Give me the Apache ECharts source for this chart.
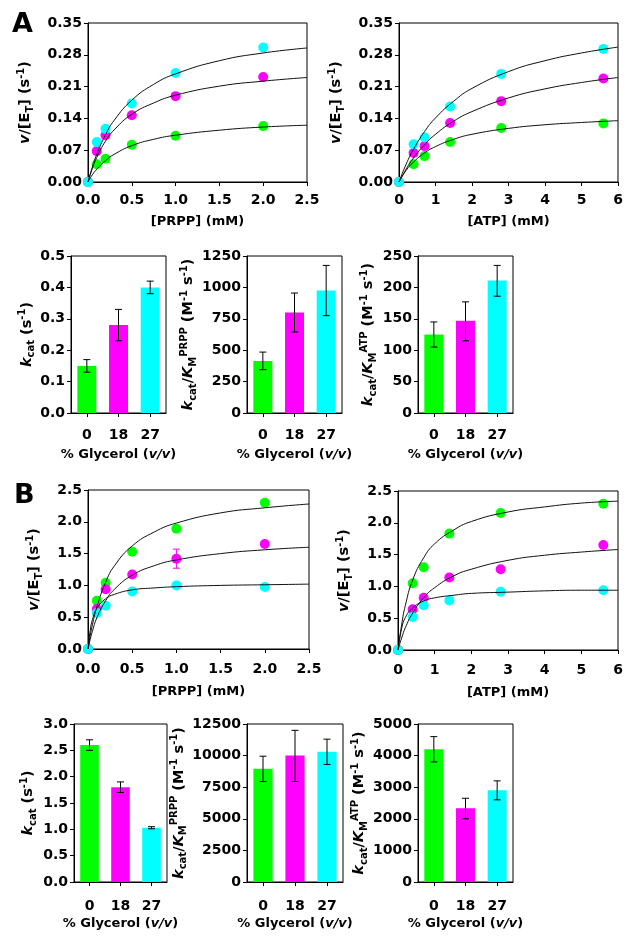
<!DOCTYPE html>
<html>
<head>
<meta charset="utf-8">
<script src="https://cdn.jsdelivr.net/npm/echarts@6/dist/echarts.min.js"></script>
<style>html,body{margin:0;padding:0;background:#fff}#c{width:635px;height:938px}</style>
</head>
<body>
<div id="c"></div>
<script>
// ---------- DATA ----------
const prppConc = [0, 0.1, 0.2, 0.5, 1.0, 2.0];
const atpConc = [0, 0.4, 0.7, 1.4, 2.8, 5.6];

const A_prpp_green   = [0, 0.039, 0.051, 0.082, 0.102, 0.123];
const A_prpp_magenta = [0, 0.068, 0.103, 0.147, 0.189, 0.231];
const A_prpp_cyan    = [0, 0.088, 0.117, 0.173, 0.240, 0.296];
const A_atp_green    = [0, 0.039, 0.057, 0.088, 0.119, 0.129];
const A_atp_magenta  = [0, 0.064, 0.079, 0.130, 0.178, 0.228];
const A_atp_cyan     = [0, 0.083, 0.098, 0.166, 0.238, 0.293];
const B_prpp_green   = [0, 0.76, 1.04, 1.53, 1.89, 2.30];
const B_prpp_magenta = [0, 0.63, 0.94, 1.17, 1.42, 1.65];
const B_prpp_cyan    = [0, 0.565, 0.68, 0.905, 1.00, 0.975];
const B_atp_green    = [0, 1.05, 1.30, 1.83, 2.155, 2.30];
const B_atp_magenta  = [0, 0.64, 0.82, 1.14, 1.27, 1.65];
const B_atp_cyan     = [0, 0.52, 0.705, 0.78, 0.915, 0.94];
// error bar on B PRPP magenta point at 1.0 mM
const B_prpp_magenta_err = [[1.0, 1.27, 1.57]];

// fitted curves
const A_prppFitX = [0, 0.05, 0.1, 0.2, 0.3, 0.5, 0.75, 1, 1.5, 2, 2.5];
const A_prppFit_cyan    = [0, 0.033, 0.061, 0.104, 0.136, 0.180, 0.215, 0.238, 0.267, 0.284, 0.295];
const A_prppFit_magenta = [0, 0.030, 0.054, 0.090, 0.115, 0.149, 0.174, 0.191, 0.211, 0.222, 0.230];
const A_prppFit_green   = [0, 0.016, 0.028, 0.047, 0.061, 0.080, 0.094, 0.103, 0.114, 0.121, 0.125];
const A_atpFitX = [0, 0.2, 0.4, 0.7, 1, 1.5, 2, 3, 4, 5, 6];
const A_atpFit_cyan    = [0, 0.040, 0.072, 0.111, 0.141, 0.178, 0.206, 0.243, 0.267, 0.284, 0.297];
const A_atpFit_magenta = [0, 0.029, 0.053, 0.082, 0.105, 0.134, 0.155, 0.185, 0.205, 0.219, 0.230];
const A_atpFit_green   = [0, 0.026, 0.044, 0.064, 0.078, 0.094, 0.105, 0.118, 0.126, 0.131, 0.135];
const B_prppFitX = [0, 0.025, 0.05, 0.1, 0.2, 0.3, 0.5, 0.75, 1, 1.5, 2, 2.5];
const B_prppFit_green   = [0, 0.21, 0.38, 0.66, 1.05, 1.31, 1.62, 1.84, 1.98, 2.14, 2.22, 2.28];
const B_prppFit_magenta = [0, 0.15, 0.28, 0.49, 0.76, 0.94, 1.16, 1.31, 1.40, 1.50, 1.56, 1.60];
const B_prppFit_cyan    = [0, 0.29, 0.46, 0.64, 0.79, 0.86, 0.93, 0.96, 0.98, 1.00, 1.01, 1.02];
const B_atpFitX = [0, 0.1, 0.2, 0.4, 0.7, 1, 1.5, 2, 3, 4, 5, 6];
const B_atpFit_green   = [0, 0.40, 0.70, 1.10, 1.45, 1.67, 1.88, 2.02, 2.17, 2.25, 2.31, 2.34];
const B_atpFit_magenta = [0, 0.19, 0.35, 0.58, 0.82, 0.98, 1.16, 1.27, 1.41, 1.49, 1.54, 1.58];
const B_atpFit_cyan    = [0, 0.34, 0.51, 0.66, 0.77, 0.82, 0.86, 0.89, 0.91, 0.93, 0.94, 0.94];

// bar panels
const glycerol = ['0', '18', '27'];
const A_kcat = [0.15, 0.28, 0.40],  A_kcat_lo = [0.13, 0.23, 0.38],  A_kcat_hi = [0.17, 0.33, 0.42];
const A_prppEff = [415, 800, 975],  A_prppEff_lo = [345, 645, 775],  A_prppEff_hi = [485, 955, 1175];
const A_atpEff = [125, 147, 211],   A_atpEff_lo = [105, 115, 186],   A_atpEff_hi = [145, 177, 235];
const B_kcat = [2.6, 1.8, 1.03],    B_kcat_lo = [2.5, 1.7, 1.01],    B_kcat_hi = [2.7, 1.9, 1.05];
const B_prppEff = [8950, 10000, 10300], B_prppEff_lo = [7950, 7950, 9300], B_prppEff_hi = [9950, 12000, 11300];
const B_atpEff = [4200, 2330, 2900], B_atpEff_lo = [3800, 2000, 2600], B_atpEff_hi = [4600, 2650, 3200];

// ---------- STYLE / LAYOUT ----------
const F = 'DejaVu Sans';
const COL = { g: '#00ff00', m: '#ff00ff', c: '#00ffff' };
const BLACK = '#000';

const rich = {
  n:   { fontFamily: F, fontWeight: 'bold', fontSize: 14.5, lineHeight: 19, color: BLACK },
  i:   { fontFamily: F, fontWeight: 'bold', fontStyle: 'italic', fontSize: 14.5, lineHeight: 19, color: BLACK },
  sub: { fontFamily: F, fontWeight: 'bold', fontSize: 10, lineHeight: 10, verticalAlign: 'bottom', color: BLACK },
  sup: { fontFamily: F, fontWeight: 'bold', fontSize: 10, lineHeight: 10, verticalAlign: 'top', color: BLACK }
};
const richX = {
  n: { fontFamily: F, fontWeight: 'bold', fontSize: 13, color: BLACK },
  i: { fontFamily: F, fontWeight: 'bold', fontStyle: 'italic', fontSize: 13, color: BLACK }
};
const nameV = '{i|v}{n|/[E}{sub|T}{n|] (s}{sup|-1}{n|)}';
const nameKcat = '{i|k}{sub|cat}{n| (s}{sup|-1}{n|)}';
const nameEff = s => '{i|k}{sub|cat}{n|/}{i|K}{sub|M}{sup|' + s + '}{n| (M}{sup|-1}{n| s}{sup|-1}{n|)}';

const panels = [
  { kind: 'xy', left: 88,  top: 23,  width: 219, height: 159, xmin: 0, xmax: 2.5, xint: 0.5, xdec: 1, ymax: 0.35, yint: 0.07, ydec: 2, xname: '[PRPP] (mM)', ygap: 53, xmargin: 11, xgap: 33,
    pts: [A_prpp_green, A_prpp_magenta, A_prpp_cyan], xs: prppConc, fitX: A_prppFitX, fits: [A_prppFit_green, A_prppFit_magenta, A_prppFit_cyan] },
  { kind: 'xy', left: 399, top: 23,  width: 219, height: 159, xmin: 0, xmax: 6, xint: 1, xdec: 0, ymax: 0.35, yint: 0.07, ydec: 2, xname: '[ATP] (mM)', ygap: 53, xmargin: 11, xgap: 33,
    pts: [A_atp_green, A_atp_magenta, A_atp_cyan], xs: atpConc, fitX: A_atpFitX, fits: [A_atpFit_green, A_atpFit_magenta, A_atpFit_cyan] },
  { kind: 'bar', left: 71,  top: 256, width: 95, height: 157, ymax: 0.5, yint: 0.1, ydec: 1, yname: nameKcat, ygap: 34, vals: A_kcat, lo: A_kcat_lo, hi: A_kcat_hi, xmargin: 15, xgap: 35 },
  { kind: 'bar', left: 247, top: 256, width: 95, height: 157, ymax: 1250, yint: 250, ydec: 0, yname: nameEff('PRPP'), ygap: 47, vals: A_prppEff, lo: A_prppEff_lo, hi: A_prppEff_hi, xmargin: 15, xgap: 35 },
  { kind: 'bar', left: 418, top: 256, width: 95, height: 157, ymax: 250, yint: 50, ydec: 0, yname: nameEff('ATP'), ygap: 40, vals: A_atpEff, lo: A_atpEff_lo, hi: A_atpEff_hi, xmargin: 15, xgap: 35 },
  { kind: 'xy', left: 88,  top: 490, width: 221, height: 159, xmin: 0, xmax: 2.5, xint: 0.5, xdec: 1, ymax: 2.5, yint: 0.5, ydec: 1, xname: '[PRPP] (mM)', ygap: 44, xmargin: 13, xgap: 36,
    pts: [B_prpp_green, B_prpp_magenta, B_prpp_cyan], xs: prppConc, fitX: B_prppFitX, fits: [B_prppFit_green, B_prppFit_magenta, B_prppFit_cyan], err: B_prpp_magenta_err },
  { kind: 'xy', left: 398, top: 491, width: 220, height: 159, xmin: 0, xmax: 6, xint: 1, xdec: 0, ymax: 2.5, yint: 0.5, ydec: 1, xname: '[ATP] (mM)', ygap: 44, xmargin: 13, xgap: 36,
    pts: [B_atp_green, B_atp_magenta, B_atp_cyan], xs: atpConc, fitX: B_atpFitX, fits: [B_atpFit_green, B_atpFit_magenta, B_atpFit_cyan] },
  { kind: 'bar', left: 74,  top: 724, width: 93, height: 158, ymax: 3.0, yint: 0.5, ydec: 1, yname: nameKcat, ygap: 36, vals: B_kcat, lo: B_kcat_lo, hi: B_kcat_hi, xmargin: 17, xgap: 35 },
  { kind: 'bar', left: 247, top: 724, width: 96, height: 158, ymax: 12500, yint: 2500, ydec: 0, yname: nameEff('PRPP'), ygap: 49, vals: B_prppEff, lo: B_prppEff_lo, hi: B_prppEff_hi, xmargin: 17, xgap: 35 },
  { kind: 'bar', left: 418, top: 724, width: 95, height: 158, ymax: 5000, yint: 1000, ydec: 0, yname: nameEff('ATP'), ygap: 40, vals: B_atpEff, lo: B_atpEff_lo, hi: B_atpEff_hi, xmargin: 17, xgap: 35 }
];

const labelStyle = { fontFamily: F, fontWeight: 'bold', fontSize: 14, color: BLACK };
const lineStyle = { color: BLACK, width: 1 };

function errRender(color) {
  return function (params, api) {
    const x = api.value(0), lo = api.value(1), hi = api.value(2);
    const a = api.coord([x, lo]), b = api.coord([x, hi]);
    const w = 3.5;
    const st = { stroke: color, lineWidth: 1 };
    return { type: 'group', children: [
      { type: 'line', shape: { x1: a[0], y1: a[1], x2: b[0], y2: b[1] }, style: st },
      { type: 'line', shape: { x1: a[0] - w, y1: a[1], x2: a[0] + w, y2: a[1] }, style: st },
      { type: 'line', shape: { x1: b[0] - w, y1: b[1], x2: b[0] + w, y2: b[1] }, style: st }
    ] };
  };
}

const grid = [], xAxis = [], yAxis = [], series = [];
const colors = [COL.g, COL.m, COL.c];

panels.forEach((p, k) => {
  grid.push({ left: p.left, top: p.top, width: p.width, height: p.height, show: true, borderColor: BLACK, borderWidth: 1, backgroundColor: 'transparent', containLabel: false, outerBoundsMode: 'none' });
  yAxis.push({
    gridIndex: k, type: 'value', min: 0, max: p.ymax, interval: p.yint,
    axisLine: { show: true, lineStyle: lineStyle },
    axisTick: { show: true, length: 4, inside: false, lineStyle: lineStyle },
    axisLabel: Object.assign({ margin: 6, formatter: v => v.toFixed(p.ydec) }, labelStyle),
    splitLine: { show: false },
    name: p.kind === 'xy' ? nameV : p.yname,
    nameLocation: 'middle', nameRotate: 90, nameGap: p.ygap,
    nameTextStyle: { rich: rich }
  });
  if (p.kind === 'xy') {
    xAxis.push({
      gridIndex: k, type: 'value', min: p.xmin, max: p.xmax, interval: p.xint,
      axisLine: { show: true, onZero: false, lineStyle: lineStyle },
      axisTick: { show: true, length: 4, lineStyle: lineStyle },
      axisLabel: Object.assign({ margin: p.xmargin, formatter: v => v.toFixed(p.xdec) }, labelStyle),
      splitLine: { show: false },
      name: p.xname, nameLocation: 'middle', nameGap: p.xgap,
      nameTextStyle: { fontFamily: F, fontWeight: 'bold', fontSize: 13, color: BLACK }
    });
    p.pts.forEach((ys, j) => {
      series.push({
        type: 'scatter', xAxisIndex: k, yAxisIndex: k, symbol: 'circle', symbolSize: 10,
        itemStyle: { color: colors[j], opacity: 1 }, z: 2 + j,
        data: p.xs.map((x, i) => [x, ys[i]]), silent: true
      });
    });
    if (p.err) {
      series.push({
        type: 'custom', xAxisIndex: k, yAxisIndex: k, z: 5, renderItem: errRender(COL.m),
        encode: { x: 0, y: [1, 2] }, data: p.err, silent: true
      });
    }
    p.fits.forEach((ys) => {
      series.push({
        type: 'line', xAxisIndex: k, yAxisIndex: k, showSymbol: false, symbol: 'none',
        smooth: 0.5, z: 10,
        lineStyle: { color: '#111', width: 1 },
        data: p.fitX.map((x, i) => [x, ys[i]]), silent: true
      });
    });
  } else {
    xAxis.push({
      gridIndex: k, type: 'category', data: glycerol,
      axisLine: { show: true, lineStyle: lineStyle },
      axisTick: { show: true, length: 4, alignWithLabel: true, lineStyle: lineStyle },
      axisLabel: Object.assign({ margin: p.xmargin }, labelStyle),
      name: '{n|% Glycerol (}{i|v/v}{n|)}', nameLocation: 'middle', nameGap: p.xgap,
      nameTextStyle: { rich: richX }
    });
    series.push({
      type: 'bar', xAxisIndex: k, yAxisIndex: k, barWidth: '60%',
      data: p.vals.map((v, i) => ({ value: v, itemStyle: { color: colors[i] } })), silent: true
    });
    series.push({
      type: 'custom', xAxisIndex: k, yAxisIndex: k, z: 5, renderItem: errRender(BLACK),
      encode: { x: 0, y: [1, 2] }, data: p.vals.map((v, i) => [i, p.lo[i], p.hi[i]]), silent: true
    });
  }
});

const chart = echarts.init(document.getElementById('c'), null, { renderer: 'canvas' });
chart.setOption({
  animation: false,
  backgroundColor: '#fff',
  grid, xAxis, yAxis, series,
  graphic: [
    { type: 'text', left: 12, top: 11, style: { text: 'A', fontFamily: F, fontWeight: 'bold', fontSize: 27, fill: BLACK } },
    { type: 'text', left: 14, top: 482, style: { text: 'B', fontFamily: F, fontWeight: 'bold', fontSize: 27, fill: BLACK } }
  ]
});
</script>
</body>
</html>
